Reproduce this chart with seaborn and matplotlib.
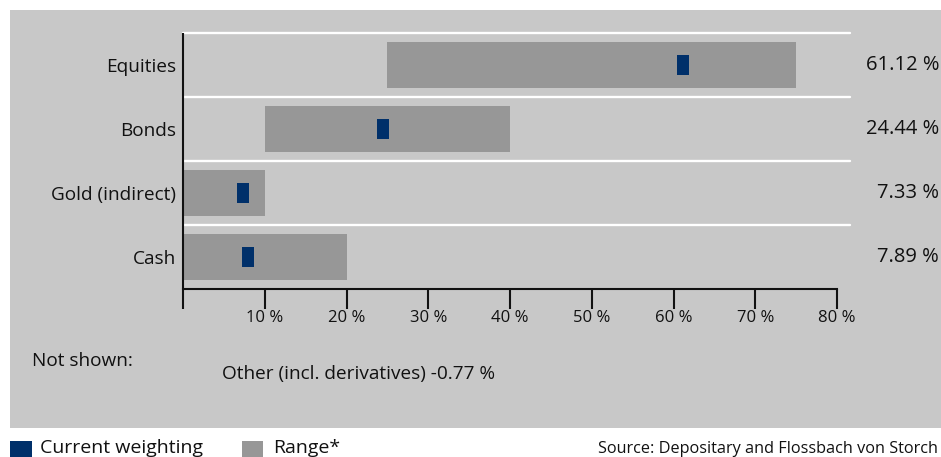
import numpy as np
import matplotlib.pyplot as plt
import matplotlib.transforms as mtransforms
from matplotlib.patches import Rectangle
import seaborn as sns

# data
categories = ["Equities", "Bonds", "Gold (indirect)", "Cash"]
range_low = [25, 10, 0, 0]
range_high = [75, 40, 10, 20]
current = [61.12, 24.44, 7.33, 7.89]
value_labels = ["61.12 %", "24.44 %", "7.33 %", "7.89 %"]
x_ticks = [10, 20, 30, 40, 50, 60, 70, 80]
x_tick_labels = ["10 %", "20 %", "30 %", "40 %", "50 %", "60 %", "70 %", "80 %"]
not_shown_label = "Not shown:"
other_note = "Other (incl. derivatives) -0.77 %"
legend_labels = ["Current weighting", "Range*"]
source_note = "Source: Depositary and Flossbach von Storch"

PANEL = "#c8c8c8"
GREY = "#979797"
NAVY = "#00306a"
INK = "#111111"

sns.set_theme(style="white")
plt.rcParams["font.family"] = ["Open Sans", "DejaVu Sans"]

W, H = 941, 457
fig = plt.figure(figsize=(W / 100, H / 100), dpi=100)
fig.patch.set_facecolor("white")

# grey panel behind the chart
fig.patches.append(Rectangle((10 / W, 1 - 428 / H), 931 / W, 418 / H,
                             transform=fig.transFigure, facecolor=PANEL,
                             edgecolor="none", zorder=-5))

ax = fig.add_axes([183 / W, 1 - 289 / H, (850 - 183) / W, 256 / H])
ax.set_zorder(2)
ax.set_facecolor("none")
px_per_pct = (837 - 183) / 80
ax.set_xlim(0, (850 - 183) / px_per_pct)
ax.set_ylim(3.5, -0.5)

y_pos = np.arange(len(categories))
low = np.array(range_low)
high = np.array(range_high)

# range bars
ax.barh(y_pos, high - low, left=low, height=0.72, color=GREY,
        edgecolor="none", linewidth=0, zorder=2)

# current weighting markers (narrow rectangles)
rect = [(-0.29, -0.5), (0.29, -0.5), (0.29, 0.5), (-0.29, 0.5), (-0.29, -0.5)]
sns.scatterplot(x=current, y=y_pos, marker=rect, s=188, color=NAVY,
                linewidth=0, zorder=4, ax=ax, legend=False)

# white row separators
for yy in np.arange(len(categories)) - 0.5:
    ax.axhline(yy, color="white", lw=1.7, zorder=1, clip_on=False)

for s in ["top", "right", "left"]:
    ax.spines[s].set_visible(False)
ax.spines["bottom"].set_bounds(0, 80)
ax.spines["bottom"].set_linewidth(1.5)
ax.spines["bottom"].set_color(INK)
ax.spines["bottom"].set_zorder(3)

# left axis line, reaching below the bottom axis
ax.plot([0, 0], [-0.5, 3.5 + 20 / 64], color=INK, lw=1.5, zorder=5,
        clip_on=False, solid_capstyle="butt")

ax.set_xticks(x_ticks, x_tick_labels)
ax.tick_params(axis="x", bottom=True, direction="out", length=14.4, width=1.5,
               color=INK, pad=1, labelsize=12, labelcolor=INK)
ax.set_yticks(y_pos, categories)
ax.tick_params(axis="y", left=False, length=0, pad=5, labelsize=13.7,
               labelcolor=INK)
ax.set_xlabel("")
ax.set_ylabel("")

# values at the right edge
trans = mtransforms.blended_transform_factory(fig.transFigure, ax.transData)
for yy, lab in zip(y_pos, value_labels):
    ax.text(939 / W, yy, lab, transform=trans, ha="right", va="center",
            fontsize=14.5, color=INK)

fig.text(32 / W, 1 - 361 / H, not_shown_label, ha="left", va="center",
         fontsize=13.7, color=INK)
fig.text(222 / W, 1 - 374 / H, other_note, ha="left", va="center",
         fontsize=13.7, color=INK)

# legend below the panel
fig.patches.append(Rectangle((10 / W, 1 - 465 / H), 22 / W, 24 / H,
                             transform=fig.transFigure, facecolor=NAVY,
                             edgecolor="none"))
fig.patches.append(Rectangle((242 / W, 1 - 465 / H), 21 / W, 24 / H,
                             transform=fig.transFigure, facecolor=GREY,
                             edgecolor="none"))
fig.text(40 / W, 1 - 453 / H, legend_labels[0], ha="left", va="baseline",
         fontsize=14, color=INK)
fig.text(273 / W, 1 - 453 / H, legend_labels[1], ha="left", va="baseline",
         fontsize=14, color=INK)
fig.text(938 / W, 1 - 453 / H, source_note, ha="right", va="baseline",
         fontsize=11.7, color=INK)

fig.savefig("out.png", dpi=100, facecolor="white")
